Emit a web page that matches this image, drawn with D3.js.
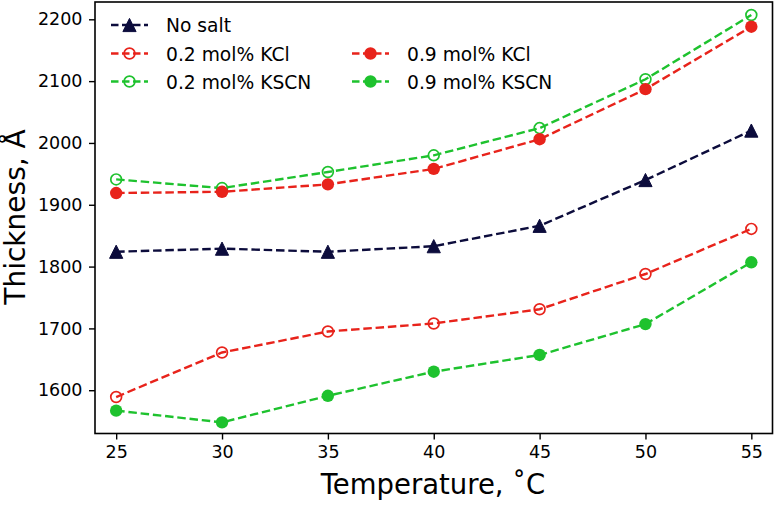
<!DOCTYPE html>
<html><head><meta charset="utf-8">
<script src="https://cdn.jsdelivr.net/npm/d3@7"></script>
<style>body{margin:0;background:#fff;} text{font-family:"DejaVu Sans",sans-serif;}</style>
</head><body><svg id="c" width="776" height="507"></svg>
<script>
const temperatures = [25, 30, 35, 40, 45, 50, 55];
const noSalt    = [1824, 1829, 1824, 1833, 1866, 1940, 2020];
const kcl02     = [1589, 1661, 1695, 1708, 1731, 1788, 1861];
const kscn02    = [1941, 1927, 1953, 1980, 2024, 2103, 2207];
const kcl09     = [1919, 1921, 1933, 1958, 2006, 2087, 2188];
const kscn09    = [1567, 1548, 1591, 1630, 1657, 1707, 1807];
const xTicks = [25, 30, 35, 40, 45, 50, 55];
const yTicks = [1600, 1700, 1800, 1900, 2000, 2100, 2200];

const NAVY = "#0c0c3c", RED = "#e8231b", GREEN = "#1ec22e";
const series = [
  {name: "No salt", values: noSalt, color: NAVY, marker: "tri", filled: true},
  {name: "0.2 mol% KCl", values: kcl02, color: RED, marker: "circle", filled: false},
  {name: "0.2 mol% KSCN", values: kscn02, color: GREEN, marker: "circle", filled: false},
  {name: "0.9 mol% KCl", values: kcl09, color: RED, marker: "circle", filled: true},
  {name: "0.9 mol% KSCN", values: kscn09, color: GREEN, marker: "circle", filled: true},
];

const svg = d3.select("#c");
const L = 95, R = 772.5, T = 2, B = 433.5;
const x = d3.scaleLinear().domain([24, 56]).range([L, R]);
const y = d3.scaleLinear().domain([1530, 2228]).range([B, T]);

// axes
const xAxis = svg.append("g").attr("transform", `translate(0,${B})`)
  .call(d3.axisBottom(x).tickValues(xTicks).tickSize(6).tickPadding(6).tickFormat(d3.format("d")));
const yAxis = svg.append("g").attr("transform", `translate(${L},0)`)
  .call(d3.axisLeft(y).tickValues(yTicks).tickSize(6).tickPadding(6.5).tickFormat(d3.format("d")));
[xAxis, yAxis].forEach(a => {
  a.select(".domain").remove();
  a.selectAll(".tick line").attr("stroke", "#000").attr("stroke-width", 1.4);
  a.selectAll(".tick text").attr("font-size", 17.5).attr("fill", "#000").attr("font-family", "DejaVu Sans");
});

svg.append("rect").attr("x", L).attr("y", T).attr("width", R - L).attr("height", B - T)
  .attr("fill", "none").attr("stroke", "#000").attr("stroke-width", 1.6);

function drawMarker(g, m, cx, cy, color, filled) {
  if (m === "tri") {
    const s = 6.6;
    g.append("path").attr("d", `M${cx},${cy - s} L${cx + s},${cy + s} L${cx - s},${cy + s} Z`)
      .attr("fill", color).attr("stroke", color).attr("stroke-width", 1);
  } else if (filled) {
    g.append("circle").attr("cx", cx).attr("cy", cy).attr("r", 6.2).attr("fill", color);
  } else {
    g.append("circle").attr("cx", cx).attr("cy", cy).attr("r", 5.4).attr("fill", "none")
      .attr("stroke", color).attr("stroke-width", 1.7);
  }
}

const DASH = "8.5,3.8", LW = 2.4;
const line = d3.line().x((d, i) => x(temperatures[i])).y(d => y(d));
const plot = svg.append("g");
series.forEach(s => {
  plot.append("path").attr("d", line(s.values)).attr("fill", "none")
    .attr("stroke", s.color).attr("stroke-width", LW).attr("stroke-dasharray", DASH);
  s.values.forEach((v, i) => drawMarker(plot, s.marker, x(temperatures[i]), y(v), s.color, s.filled));
});

// legend
const legendPos = [
  {col: 0, row: 0}, {col: 0, row: 1}, {col: 0, row: 2}, {col: 1, row: 1}, {col: 1, row: 2}
];
const colX = [111, 352], rowY = [25, 53.5, 81.5];
series.forEach((s, i) => {
  const p = legendPos[i];
  const lx = colX[p.col], ly = rowY[p.row];
  const g = svg.append("g");
  g.append("line").attr("x1", lx).attr("x2", lx + 37).attr("y1", ly).attr("y2", ly)
    .attr("stroke", s.color).attr("stroke-width", LW).attr("stroke-dasharray", "7.5,3.5");
  drawMarker(g, s.marker, lx + 18.5, ly, s.color, s.filled);
  g.append("text").attr("x", lx + 55).attr("y", ly + 7).attr("font-size", 18.7).attr("fill", "#000").text(s.name);
});

// axis labels
svg.append("text").attr("x", 433).attr("y", 494).attr("text-anchor", "middle")
  .attr("font-size", 27.5).attr("fill", "#000").text("Temperature, \u02DAC");
svg.append("text").attr("transform", `translate(25,217) rotate(-90)`).attr("text-anchor", "middle")
  .attr("font-size", 28).attr("fill", "#000").text("Thickness, \u00C5");
</script></body></html>
